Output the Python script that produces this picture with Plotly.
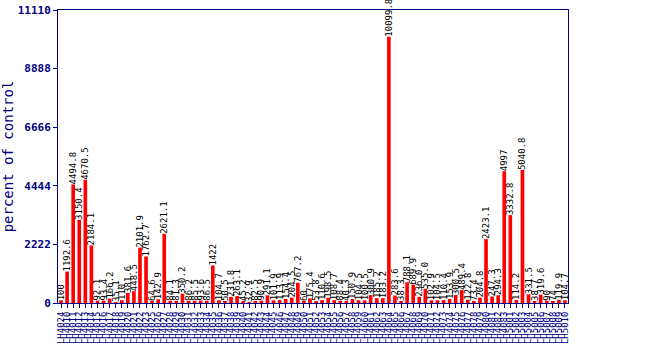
import plotly.graph_objects as go

values = [100, 1192.6, 4494.8, 3150.4, 4670.5, 2184.1, 92.1, 93.4, 166.2, 35.1,
          110, 381.6, 448.5, 2101.9, 1762.7, 64.6, 142.9, 2621.1, 84.1, 81.3,
          350.2, 86.2, 85.5, 93.6, 86.5, 1422, 104.7, 50.5, 231.8, 263.1,
          45.2, 32.9, 82.5, 90.9, 291.1, 101.9, 113.9, 154.4, 204.5, 767.2,
          60, 175.4, 53.8, 110.6, 198.5, 108.7, 88.4, 40.3, 150.9, 104.5,
          100.5, 300.9, 185.2, 183.2, 10099.8, 283.6, 38.3, 788.1, 689.9, 236.0,
          535.0, 102.9, 104.5, 110.4, 153.9, 300.5, 489.4, 122.8, 73.4, 204.8,
          2423.1, 247.3, 294.3, 4997, 3332.8, 114.2, 5040.8, 331.5, 38.7, 319.6,
          90, 74, 119.9, 104.7]

value_text = ["100", "1192.6", "4494.8", "3150.4", "4670.5", "2184.1", "92.1", "93.4", "166.2", "35.1",
              "110", "381.6", "448.5", "2101.9", "1762.7", "64.6", "142.9", "2621.1", "84.1", "81.3",
              "350.2", "86.2", "85.5", "93.6", "86.5", "1422", "104.7", "50.5", "231.8", "263.1",
              "45.2", "32.9", "82.5", "90.9", "291.1", "101.9", "113.9", "154.4", "204.5", "767.2",
              "60", "175.4", "53.8", "110.6", "198.5", "108.7", "88.4", "40.3", "150.9", "104.5",
              "100.5", "300.9", "185.2", "183.2", "10099.8", "283.6", "38.3", "788.1", "689.9", "236.0",
              "535.0", "102.9", "104.5", "110.4", "153.9", "300.5", "489.4", "122.8", "73.4", "204.8",
              "2423.1", "247.3", "294.3", "4997", "3332.8", "114.2", "5040.8", "331.5", "38.7", "319.6",
              "90", "74", "119.9", "104.7"]

categories = ["LH4024",
              "LH4010", "LH4011", "LH4012", "LH4013", "LH4014", "LH4015", "LH4016", "LH4017", "LH4018", "LH4019",
              "LH4020", "LH4021", "LH4022", "LH4023", "LH4025", "LH4026", "LH4027", "LH4028", "LH4029",
              "LH4030", "LH4031", "LH4032", "LH4033", "LH4034", "LH4035", "LH4036", "LH4037", "LH4038", "LH4039",
              "LH4040", "LH4041", "LH4042", "LH4043", "LH4044", "LH4045", "LH4046", "LH4047", "LH4048", "LH4049",
              "LH4050", "LH4051", "LH4052", "LH4053", "LH4054", "LH4055", "LH4056", "LH4057", "LH4058", "LH4059",
              "LH4060", "LH4061", "LH4062", "LH4063", "LH4064", "LH4065", "LH4066", "LH4067", "LH4068", "LH4069",
              "LH4070", "LH4071", "LH4072", "LH4073", "LH4074", "LH4075", "LH4076", "LH4077", "LH4078", "LH4079",
              "LH4080", "LH4081", "LH4082", "LH4083",
              "LH5001", "LH5002", "LH5003", "LH5004", "LH5005", "LH5006", "LH5007", "LH5008", "LH5009", "LH5010"]

y_ticks = [0, 2222, 4444, 6666, 8888, 11110]

navy = "#000080"
mono = "DejaVu Sans Mono"

fig = go.Figure(go.Bar(
    x=categories,
    y=values,
    text=value_text,
    textposition="outside",
    textangle=-90,
    constraintext="none",
    cliponaxis=False,
    textfont=dict(family=mono, size=9, color="black"),
    marker=dict(color="#ff0000", line=dict(width=0)),
))

fig.update_layout(
    width=650, height=350,
    margin=dict(l=58, r=82, t=10, b=47),
    paper_bgcolor="white", plot_bgcolor="white",
    bargap=0.4,
    showlegend=False,
    font=dict(family=mono, color=navy),
)

fig.update_xaxes(
    type="category",
    tickmode="array",
    tickvals=categories,
    ticktext=categories,
    tickangle=-90,
    tickfont=dict(family=mono, size=9, color=navy),
    automargin=False,
    showline=True, linecolor=navy, linewidth=1, mirror=True,
    ticks="outside", ticklen=4, tickcolor=navy,
    showgrid=False,
    range=[-0.5, len(categories) - 0.5],
)

fig.update_yaxes(
    range=[0, 11110],
    tickvals=y_ticks,
    ticktext=[str(v) for v in y_ticks],
    tickfont=dict(family=mono, size=11, color=navy, weight="bold"),
    showline=True, linecolor=navy, linewidth=1, mirror=True,
    ticks="outside", ticklen=4, tickcolor=navy,
    showgrid=False, zeroline=False,
    automargin=False,
    title=dict(text="percent of control", font=dict(family=mono, size=14, color=navy), standoff=4),
)

fig.write_html("out.html")
